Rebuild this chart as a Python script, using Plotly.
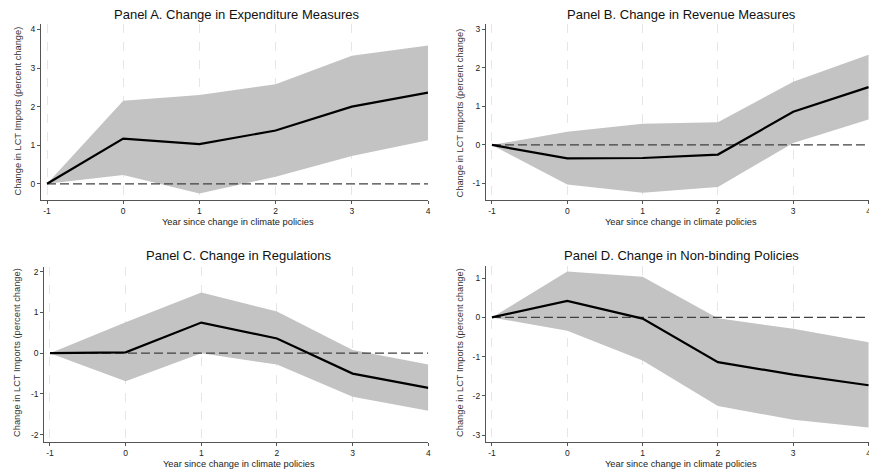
import plotly.graph_objects as go

# Event time (years relative to the policy change)
years = [-1, 0, 1, 2, 3, 4]

titles = [
    "Panel A. Change in Expenditure Measures",
    "Panel B. Change in Revenue Measures",
    "Panel C. Change in Regulations",
    "Panel D. Change in Non-binding Policies",
]

# Point estimates and 90% confidence bands (percent change in LCT imports)
est_a = [0, 1.17, 1.03, 1.38, 2.00, 2.36]
lo_a = [0, 0.23, -0.25, 0.18, 0.72, 1.13]
hi_a = [0, 2.15, 2.30, 2.58, 3.32, 3.58]

est_b = [0, -0.35, -0.34, -0.25, 0.86, 1.50]
lo_b = [0, -1.03, -1.24, -1.09, 0.05, 0.66]
hi_b = [0, 0.34, 0.55, 0.59, 1.64, 2.34]

est_c = [0, 0.02, 0.75, 0.36, -0.50, -0.85]
lo_c = [0, -0.69, 0.00, -0.28, -1.07, -1.41]
hi_c = [0, 0.76, 1.49, 1.02, 0.08, -0.28]

est_d = [0, 0.42, -0.03, -1.14, -1.46, -1.73]
lo_d = [0, -0.34, -1.10, -2.26, -2.61, -2.81]
hi_d = [0, 1.17, 1.04, -0.02, -0.29, -0.63]

yticks_a = [0, 1, 2, 3, 4]
yticks_b = [-1, 0, 1, 2, 3]
yticks_c = [-2, -1, 0, 1, 2]
yticks_d = [-3, -2, -1, 0, 1]

x_title = "Year since change in climate policies"
y_title = "Change in LCT Imports (percent change)"

W, H = 869, 475
FONT = "Arial, 'Liberation Sans', sans-serif"


def px(p):
    return p / W


def py(p):
    return 1 - p / H


def labels(vals):
    # plain hyphen-minus, as in the Stata output
    return [str(v) for v in vals]


panels = [
    dict(est=est_a, lo=lo_a, hi=hi_a, yt=yticks_a,
         xdom=(41, 428), ydom=(200, 24), xr=(-1.079, 4.0), yr=(-0.42, 4.14),
         title_xy=(237, 14), xt_xy=(237.5, 222), yt_xy=(17.5, 111)),
    dict(est=est_b, lo=lo_b, hi=hi_b, yt=yticks_b,
         xdom=(486, 869), ydom=(200, 24), xr=(-1.079, 4.006), yr=(-1.43, 3.14),
         title_xy=(681, 14), xt_xy=(681, 222), yt_xy=(459.5, 113)),
    dict(est=est_c, lo=lo_c, hi=hi_c, yt=yticks_c,
         xdom=(44.3, 428.3), ydom=(441.7, 266.7), xr=(-1.075, 4.0), yr=(-2.17, 2.12),
         title_xy=(239, 255.7), xt_xy=(239, 464.3), yt_xy=(17, 353)),
    dict(est=est_d, lo=lo_d, hi=hi_d, yt=yticks_d,
         xdom=(486, 869), ydom=(441.7, 265.7), xr=(-1.079, 4.006), yr=(-3.17, 1.32),
         title_xy=(681, 255.7), xt_xy=(681, 464.3), yt_xy=(459.5, 352.5)),
]

fig = go.Figure()
annotations = []
layout_axes = {}

for i, (p, title) in enumerate(zip(panels, titles), start=1):
    sfx = "" if i == 1 else str(i)
    xa, ya = "x" + sfx, "y" + sfx

    # Confidence band
    fig.add_trace(go.Scatter(
        x=years + years[::-1], y=p["hi"] + p["lo"][::-1],
        fill="toself", fillcolor="#c3c3c3", mode="lines",
        line=dict(width=0, color="#c3c3c3"), hoverinfo="skip",
        showlegend=False, xaxis=xa, yaxis=ya))
    # Reference line at zero
    fig.add_trace(go.Scatter(
        x=[years[0], years[-1]], y=[0, 0], mode="lines",
        line=dict(color="#404040", width=1.3, dash="9px,4px"),
        hoverinfo="skip", showlegend=False, xaxis=xa, yaxis=ya))
    # Point estimates
    fig.add_trace(go.Scatter(
        x=years, y=p["est"], mode="lines",
        line=dict(color="black", width=2.2),
        showlegend=False, xaxis=xa, yaxis=ya))

    layout_axes["xaxis" + sfx] = dict(
        domain=[px(p["xdom"][0]), px(p["xdom"][1])], range=list(p["xr"]),
        anchor=ya, tickvals=years, ticktext=labels(years),
        ticks="outside", ticklen=3, tickwidth=1,
        tickcolor="#555555", showline=True, linecolor="#555555", linewidth=1.3,
        showgrid=True, gridcolor="#e6e6e6", gridwidth=1, griddash="dash",
        zeroline=False, automargin=False, ticklabeloverflow="allow",
        tickfont=dict(family=FONT, size=8.5, color="#222222"))
    layout_axes["yaxis" + sfx] = dict(
        domain=[py(p["ydom"][0]), py(p["ydom"][1])], range=list(p["yr"]),
        anchor=xa, tickvals=p["yt"], ticktext=labels(p["yt"]),
        ticks="outside", ticklen=3, tickwidth=1,
        tickcolor="#555555", showline=True, linecolor="#555555", linewidth=1.3,
        showgrid=False, zeroline=False, automargin=False,
        tickfont=dict(family=FONT, size=8.5, color="#222222"))

    annotations.append(dict(
        text=title, x=px(p["title_xy"][0]), y=py(p["title_xy"][1]),
        xref="paper", yref="paper", showarrow=False,
        xanchor="center", yanchor="middle",
        font=dict(family=FONT, size=13, color="#111111")))
    annotations.append(dict(
        text=x_title, x=px(p["xt_xy"][0]), y=py(p["xt_xy"][1]),
        xref="paper", yref="paper", showarrow=False,
        xanchor="center", yanchor="middle",
        font=dict(family=FONT, size=9.3, color="#222222")))
    annotations.append(dict(
        text=y_title, x=px(p["yt_xy"][0]), y=py(p["yt_xy"][1]),
        xref="paper", yref="paper", showarrow=False, textangle=-90,
        xanchor="center", yanchor="middle",
        font=dict(family=FONT, size=9.3, color="#333333")))

fig.update_layout(
    width=W, height=H, margin=dict(l=0, r=0, t=0, b=0),
    paper_bgcolor="white", plot_bgcolor="white",
    annotations=annotations, **layout_axes)

fig.write_html("out.html")
